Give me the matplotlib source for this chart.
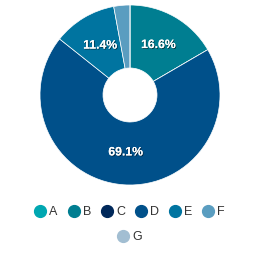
import matplotlib.pyplot as plt
import matplotlib.patheffects as pe
from matplotlib.lines import Line2D

plt.rcParams['font.family'] = ['Liberation Sans', 'DejaVu Sans']

# data
labels = ['A', 'B', 'C', 'D', 'E', 'F', 'G']
values = [0.0, 16.6, 0.0, 69.1, 11.4, 2.9, 0.0]
colors = ['#00a7b1', '#007e91', '#00285a', '#00508a', '#0074a0', '#5a9dc0', '#a2bed2']

fig = plt.figure(figsize=(2.59, 2.54), dpi=100)
ax = fig.add_axes([40 / 259, 1 - 185 / 254, 180 / 259, 180 / 254])

wedges, texts, autotexts = ax.pie(
    values, colors=colors, startangle=90, counterclock=False,
    wedgeprops=dict(width=0.70, edgecolor='white', linewidth=0.5),
    autopct=lambda p: f'{p:.1f}%' if p >= 5 else '',
    pctdistance=0.64,
)
for t in autotexts:
    t.set_color('white')
    t.set_fontsize(8.8)
    t.set_fontweight('bold')
    t.set_path_effects([pe.withSimplePatchShadow(offset=(0.6, -0.6), shadow_rgbFace='black', alpha=0.6), pe.Normal()])
ax.set_aspect('equal')
ax.set_xlim(-1, 1)
ax.set_ylim(-1, 1)

def handle(c):
    return Line2D([], [], marker='o', linestyle='none', markersize=8.5,
                  markerfacecolor=c, markeredgecolor=c)

leg1 = fig.legend([handle(c) for c in colors[:6]], labels[:6], ncol=6,
                  loc='center', bbox_to_anchor=(0.5, 1 - 212 / 254), frameon=False,
                  fontsize=9, handletextpad=0.2, columnspacing=0.8, handlelength=1.0,
                  labelcolor='#333333')
leg2 = fig.legend([handle(colors[6])], labels[6:], loc='center',
                  bbox_to_anchor=(0.5, 1 - 237 / 254), frameon=False,
                  fontsize=9, handletextpad=0.2, handlelength=1.0,
                  labelcolor='#333333')

fig.savefig('out.png', dpi=100)
